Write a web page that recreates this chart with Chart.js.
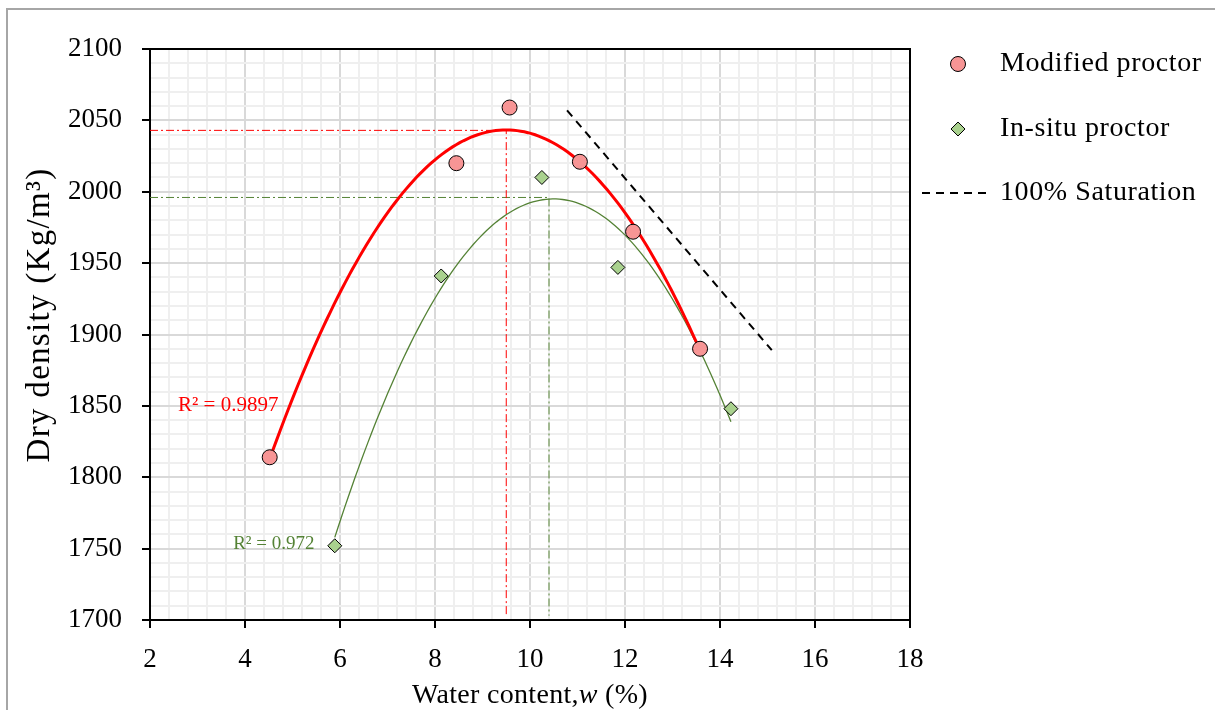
<!DOCTYPE html>
<html>
<head>
<meta charset="utf-8">
<script src="https://cdn.jsdelivr.net/npm/chart.js@4.4.1/dist/chart.umd.min.js"></script>
<style>
  html, body { margin: 0; padding: 0; background: #ffffff; }
  #wrap { width: 1215px; height: 710px; position: relative; }
</style>
</head>
<body>
<div id="wrap"><canvas id="c" width="1215" height="710"></canvas></div>
<script>
// ---- Data ----
const modWater = [4.52, 8.45, 9.57, 11.05, 12.17, 13.58];
const modDensity = [1814, 2020, 2059, 2021, 1972, 1890];
const insituWater = [5.89, 8.13, 10.25, 11.85, 14.23];
const insituDensity = [1752, 1941, 2010, 1947, 1848];
const satWater = [10.78, 15.09];
const satDensity = [2057, 1889];
const optWater = [9.5, 10.4];       // optimum moisture (modified, in-situ)
const maxDensity = [2043, 1996];    // max dry density (modified, in-situ)
const r2Labels = ["R\u00B2 = 0.9897", "R\u00B2 = 0.972"];
const legendLabels = ["Modified proctor", "In-situ proctor", "100% Saturation"];
const xTickValues = [2, 4, 6, 8, 10, 12, 14, 16, 18];
const yTickValues = [1700, 1750, 1800, 1850, 1900, 1950, 2000, 2050, 2100];
const xTitle = ["Water content,", "w", " (%)"];
const yTitle = "Dry density (Kg/m\u00B3)";

const FONT = "'Liberation Serif', 'Times New Roman', serif";
const RED = '#ff0000', GREEN = '#548235';
const RED_FILL = '#f79595', GREEN_FILL = '#a9d18e';

// least-squares 2nd order polynomial trendline (as the spreadsheet trendline)
function quadFit(xs, ys) {
  let n = xs.length, s1 = 0, s2 = 0, s3 = 0, s4 = 0, t0 = 0, t1 = 0, t2 = 0;
  for (let i = 0; i < n; i++) {
    const x = xs[i], y = ys[i];
    s1 += x; s2 += x * x; s3 += x * x * x; s4 += x * x * x * x;
    t0 += y; t1 += x * y; t2 += x * x * y;
  }
  const M = [[n, s1, s2], [s1, s2, s3], [s2, s3, s4]];
  const V = [t0, t1, t2];
  const det = m => m[0][0]*(m[1][1]*m[2][2]-m[1][2]*m[2][1]) - m[0][1]*(m[1][0]*m[2][2]-m[1][2]*m[2][0]) + m[0][2]*(m[1][0]*m[2][1]-m[1][1]*m[2][0]);
  const D = det(M);
  const coef = [0, 1, 2].map(k => det(M.map((row, r) => row.map((v, c) => c === k ? V[r] : v))) / D);
  return coef; // a + b x + c x^2
}
function trendPoints(xs, ys) {
  const [a, b, c] = quadFit(xs, ys);
  const lo = Math.min(...xs), hi = Math.max(...xs), pts = [];
  const N = 120;
  for (let i = 0; i <= N; i++) {
    const x = lo + (hi - lo) * i / N;
    pts.push({ x, y: a + b * x + c * x * x });
  }
  return pts;
}
const zip = (xs, ys) => xs.map((x, i) => ({ x, y: ys[i] }));

const isMajorX = v => xTickValues.some(t => Math.abs(t - v) < 1e-6);
const isMajorY = v => yTickValues.some(t => Math.abs(t - v) < 1e-6);

const datasets = [
  { label: legendLabels[0], data: zip(modWater, modDensity), showLine: false,
    pointStyle: 'circle', pointRadius: 7.5, backgroundColor: RED_FILL, borderColor: '#000', borderWidth: 1, order: 0 },
  { label: legendLabels[1], data: zip(insituWater, insituDensity), showLine: false,
    pointStyle: 'rectRot', pointRadius: 7, backgroundColor: GREEN_FILL, borderColor: '#000', borderWidth: 1, order: 0 },
  { label: 'trendMod', data: trendPoints(modWater, modDensity), showLine: true, pointRadius: 0,
    borderColor: RED, borderWidth: 3, order: 1 },
  { label: 'trendInsitu', data: trendPoints(insituWater, insituDensity), showLine: true, pointRadius: 0,
    borderColor: GREEN, borderWidth: 1.3, order: 1 },
  { label: legendLabels[2], data: zip(satWater, satDensity), showLine: true, pointRadius: 0,
    borderColor: '#000', borderWidth: 2, borderDash: [8, 6], order: 1 },
  { label: 'optMod', data: [{x: 2, y: maxDensity[0]}, {x: optWater[0], y: maxDensity[0]}, {x: optWater[0], y: 1703}],
    showLine: true, pointRadius: 0, borderColor: RED, borderWidth: 1, borderDash: [8, 3, 2, 3], order: 2 },
  { label: 'optInsitu', data: [{x: 2, y: maxDensity[1]}, {x: optWater[1], y: maxDensity[1]}, {x: optWater[1], y: 1703}],
    showLine: true, pointRadius: 0, borderColor: GREEN, borderWidth: 1, borderDash: [8, 3, 2, 3], order: 2 }
];

const decor = {
  id: 'decor',
  beforeDatasetsDraw(chart) {
    const { ctx, chartArea: a } = chart;
    ctx.save();
    ctx.strokeStyle = '#000'; ctx.lineWidth = 2;
    ctx.beginPath();
    ctx.moveTo(a.left, a.top); ctx.lineTo(a.right, a.top); ctx.lineTo(a.right, a.bottom);
    ctx.stroke();
    ctx.restore();
  },
  afterDraw(chart) {
    const { ctx, chartArea: a, scales } = chart;
    const xs = scales.x, ys = scales.y;
    ctx.save();
    // outer frame (left and top only)
    ctx.strokeStyle = '#a6a6a6'; ctx.lineWidth = 2;
    ctx.beginPath();
    ctx.moveTo(7, 710); ctx.lineTo(7, 9); ctx.lineTo(1215, 9);
    ctx.stroke();

    // R² labels
    ctx.textBaseline = 'middle'; ctx.textAlign = 'left';
    ctx.font = '21px ' + FONT; ctx.fillStyle = RED;
    ctx.fillText(r2Labels[0], xs.getPixelForValue(2.59), ys.getPixelForValue(1850));
    ctx.font = '19px ' + FONT; ctx.fillStyle = GREEN;
    ctx.fillText(r2Labels[1], xs.getPixelForValue(3.75), ys.getPixelForValue(1753));

    // axis titles
    ctx.fillStyle = '#000';
    ctx.save();
    ctx.font = '33px ' + FONT;
    ctx.letterSpacing = '1.3px';
    ctx.translate(40, 315);
    ctx.rotate(-Math.PI / 2);
    ctx.textAlign = 'center';
    ctx.fillText(yTitle, 0, 0);
    ctx.restore();

    ctx.save();
    ctx.letterSpacing = '0.3px';
    const fNorm = '28px ' + FONT, fIt = 'italic 28px ' + FONT;
    ctx.font = fNorm; const w0 = ctx.measureText(xTitle[0]).width;
    ctx.font = fIt; const w1 = ctx.measureText(xTitle[1]).width;
    ctx.font = fNorm; const w2 = ctx.measureText(xTitle[2]).width;
    let x = (a.left + a.right) / 2 - (w0 + w1 + w2) / 2;
    const yT = 696;
    ctx.textAlign = 'left';
    ctx.font = fNorm; ctx.fillText(xTitle[0], x, yT); x += w0;
    ctx.font = fIt; ctx.fillText(xTitle[1], x, yT); x += w1;
    ctx.font = fNorm; ctx.fillText(xTitle[2], x, yT);
    ctx.restore();

    // legend
    const lx = 958, tx = 1000, rows = [64, 129, 193];
    ctx.save();
    ctx.font = '28px ' + FONT;
    ctx.letterSpacing = '0.6px';
    ctx.fillStyle = '#000';
    rows.forEach((ry, i) => ctx.fillText(legendLabels[i], tx, ry));
    ctx.restore();
    // circle
    ctx.beginPath(); ctx.arc(lx, rows[0], 7.5, 0, Math.PI * 2);
    ctx.fillStyle = RED_FILL; ctx.fill(); ctx.strokeStyle = '#000'; ctx.lineWidth = 1; ctx.stroke();
    // diamond
    ctx.beginPath();
    ctx.moveTo(lx, rows[1] - 7); ctx.lineTo(lx + 7, rows[1]); ctx.lineTo(lx, rows[1] + 7); ctx.lineTo(lx - 7, rows[1]);
    ctx.closePath();
    ctx.fillStyle = GREEN_FILL; ctx.fill(); ctx.stroke();
    // dashed line
    ctx.beginPath(); ctx.setLineDash([8, 6]); ctx.lineWidth = 2;
    ctx.moveTo(922, rows[2]); ctx.lineTo(990, rows[2]); ctx.stroke();
    ctx.setLineDash([]);
    ctx.restore();
  }
};

new Chart(document.getElementById('c'), {
  type: 'scatter',
  data: { datasets },
  options: {
    responsive: false,
    animation: false,
    layout: { padding: { left: 0, right: 305, top: 49, bottom: 0 } },
    plugins: { legend: { display: false }, tooltip: { enabled: false } },
    scales: {
      x: {
        type: 'linear', min: 2, max: 18,
        afterFit(s) { s.height = 90; },
        ticks: {
          stepSize: 0.4, autoSkip: false, maxRotation: 0, padding: 16,
          color: '#000', font: { family: FONT, size: 27 },
          callback: v => isMajorX(v) ? String(Math.round(v)) : ''
        },
        grid: {
          color: c => isMajorX(c.tick.value) ? '#d9d9d9' : '#efefef',
          lineWidth: 2, tickLength: 8,
          tickColor: c => isMajorX(c.tick.value) ? '#000' : 'rgba(0,0,0,0)',
          tickWidth: 2
        },
        border: { color: '#000', width: 2 }
      },
      y: {
        type: 'linear', min: 1700, max: 2100,
        afterFit(s) { s.width = 150; },
        ticks: {
          stepSize: 10, autoSkip: false, padding: 20,
          color: '#000', font: { family: FONT, size: 27 },
          callback: v => isMajorY(v) ? String(Math.round(v)) : ''
        },
        grid: {
          color: c => isMajorY(c.tick.value) ? '#d9d9d9' : '#efefef',
          lineWidth: 2, tickLength: 8,
          tickColor: c => isMajorY(c.tick.value) ? '#000' : 'rgba(0,0,0,0)',
          tickWidth: 2
        },
        border: { color: '#000', width: 2 }
      }
    }
  },
  plugins: [decor]
});
</script>
</body>
</html>
